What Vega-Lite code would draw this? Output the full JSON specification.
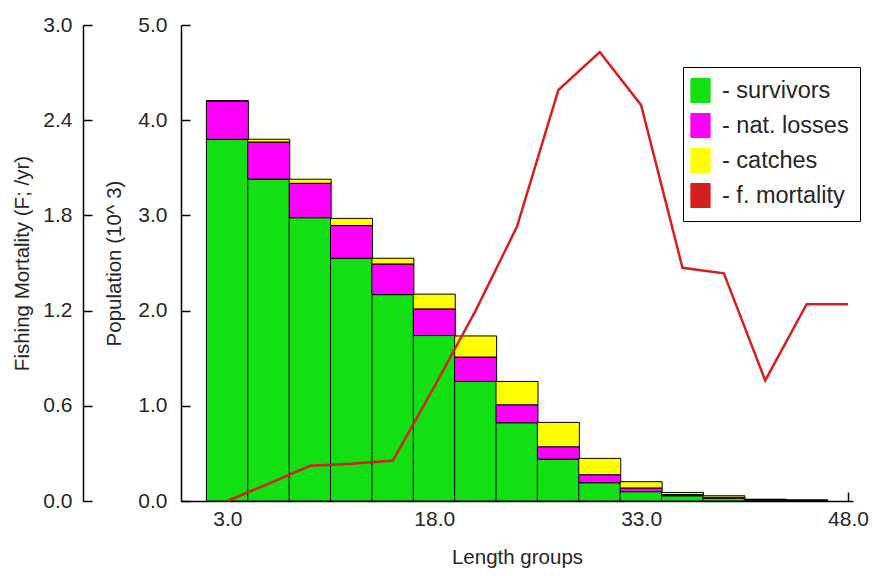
{
  "$schema": "https://vega.github.io/schema/vega-lite/v6.json",
  "width": 672,
  "height": 476,
  "autosize": {"type": "none"},
  "padding": {"left": 181, "top": 25, "right": 27, "bottom": 75},
  "background": "white",
  "config": {
    "font": "Liberation Sans",
    "view": {"stroke": null},
    "axis": {
      "grid": false,
      "zindex": 1,
      "domainColor": "black",
      "domainWidth": 1.5,
      "tickColor": "black",
      "tickWidth": 1.5,
      "tickSize": 9,
      "labelColor": "#262626",
      "titleColor": "#262626",
      "labelFontSize": 21,
      "titleFontSize": 20.5,
      "titleFontWeight": "normal",
      "labelFont": "Liberation Sans",
      "titleFont": "Liberation Sans"
    }
  },
  "datasets": {
    "bars": [
      {"len": 3, "part": "- survivors", "k": 1, "n": 3.80},
      {"len": 3, "part": "- nat. losses", "k": 2, "n": 0.40},
      {"len": 3, "part": "- catches", "k": 3, "n": 0.005},
      {"len": 6, "part": "- survivors", "k": 1, "n": 3.382},
      {"len": 6, "part": "- nat. losses", "k": 2, "n": 0.389},
      {"len": 6, "part": "- catches", "k": 3, "n": 0.029},
      {"len": 9, "part": "- survivors", "k": 1, "n": 2.976},
      {"len": 9, "part": "- nat. losses", "k": 2, "n": 0.361},
      {"len": 9, "part": "- catches", "k": 3, "n": 0.043},
      {"len": 12, "part": "- survivors", "k": 1, "n": 2.549},
      {"len": 12, "part": "- nat. losses", "k": 2, "n": 0.344},
      {"len": 12, "part": "- catches", "k": 3, "n": 0.076},
      {"len": 15, "part": "- survivors", "k": 1, "n": 2.168},
      {"len": 15, "part": "- nat. losses", "k": 2, "n": 0.322},
      {"len": 15, "part": "- catches", "k": 3, "n": 0.060},
      {"len": 18, "part": "- survivors", "k": 1, "n": 1.738},
      {"len": 18, "part": "- nat. losses", "k": 2, "n": 0.280},
      {"len": 18, "part": "- catches", "k": 3, "n": 0.155},
      {"len": 21, "part": "- survivors", "k": 1, "n": 1.256},
      {"len": 21, "part": "- nat. losses", "k": 2, "n": 0.256},
      {"len": 21, "part": "- catches", "k": 3, "n": 0.222},
      {"len": 24, "part": "- survivors", "k": 1, "n": 0.822},
      {"len": 24, "part": "- nat. losses", "k": 2, "n": 0.189},
      {"len": 24, "part": "- catches", "k": 3, "n": 0.245},
      {"len": 27, "part": "- survivors", "k": 1, "n": 0.441},
      {"len": 27, "part": "- nat. losses", "k": 2, "n": 0.129},
      {"len": 27, "part": "- catches", "k": 3, "n": 0.256},
      {"len": 30, "part": "- survivors", "k": 1, "n": 0.192},
      {"len": 30, "part": "- nat. losses", "k": 2, "n": 0.084},
      {"len": 30, "part": "- catches", "k": 3, "n": 0.172},
      {"len": 33, "part": "- survivors", "k": 1, "n": 0.098},
      {"len": 33, "part": "- nat. losses", "k": 2, "n": 0.039},
      {"len": 33, "part": "- catches", "k": 3, "n": 0.066},
      {"len": 36, "part": "- survivors", "k": 1, "n": 0.055},
      {"len": 36, "part": "- nat. losses", "k": 2, "n": 0.012},
      {"len": 36, "part": "- catches", "k": 3, "n": 0.023},
      {"len": 39, "part": "- survivors", "k": 1, "n": 0.030},
      {"len": 39, "part": "- nat. losses", "k": 2, "n": 0.008},
      {"len": 39, "part": "- catches", "k": 3, "n": 0.017},
      {"len": 42, "part": "- survivors", "k": 1, "n": 0.010},
      {"len": 42, "part": "- nat. losses", "k": 2, "n": 0.004},
      {"len": 42, "part": "- catches", "k": 3, "n": 0.005},
      {"len": 45, "part": "- survivors", "k": 1, "n": 0.006},
      {"len": 45, "part": "- nat. losses", "k": 2, "n": 0.002},
      {"len": 45, "part": "- catches", "k": 3, "n": 0.003}
    ],
    "fm": [
      {"len": 3, "F": 0.0},
      {"len": 6, "F": 0.11},
      {"len": 9, "F": 0.222},
      {"len": 12, "F": 0.235},
      {"len": 15, "F": 0.255},
      {"len": 18, "F": 0.72},
      {"len": 21, "F": 1.2},
      {"len": 24, "F": 1.73},
      {"len": 27, "F": 2.59},
      {"len": 30, "F": 2.83},
      {"len": 33, "F": 2.495},
      {"len": 36, "F": 1.47},
      {"len": 39, "F": 1.435},
      {"len": 42, "F": 0.76},
      {"len": 45, "F": 1.24},
      {"len": 48, "F": 1.24}
    ]
  },
  "layer": [
    {
      "data": {"name": "bars"},
      "mark": {"type": "bar", "width": 42, "stroke": "black", "strokeWidth": 1},
      "encoding": {
        "x": {
          "field": "len", "type": "quantitative",
          "scale": {"domain": [0, 48], "nice": false, "zero": false},
          "axis": {
            "title": "Length groups",
            "orient": "top",
            "offset": -476,
            "values": [3, 18, 33, 48],
            "format": ".1f",
            "labelBaseline": "top",
            "labelPadding": -16,
            "titleY": 56,
            "titleBaseline": "middle"
          }
        },
        "y": {
          "field": "n", "type": "quantitative", "stack": "zero",
          "scale": {"domain": [0, 5], "nice": false},
          "axis": {
            "title": "Population (10^ 3)",
            "orient": "right",
            "offset": -672,
            "values": [0, 1, 2, 3, 4, 5],
            "format": ".1f",
            "labelAlign": "right",
            "labelPadding": -23,
            "titleAngle": 270,
            "titleAlign": "center",
            "titleBaseline": "middle",
            "titleX": -67,
            "titleY": 238
          }
        },
        "order": {"field": "k", "type": "quantitative", "sort": "ascending"},
        "color": {
          "field": "part", "type": "nominal",
          "scale": {
            "domain": ["- survivors", "- nat. losses", "- catches", "- f. mortality"],
            "range": ["#12e012", "#ff00ff", "#ffff00", "#d42020"]
          },
          "legend": {
            "title": null,
            "orient": "none",
            "legendX": 502,
            "legendY": 42,
            "direction": "vertical",
            "fillColor": "white",
            "strokeColor": "black",
            "padding": 11,
            "rowPadding": 6,
            "labelFontSize": 23.5,
            "labelColor": "#262626",
            "labelFont": "Liberation Sans",
            "labelOffset": 3,
            "symbolSize": 576,
            "symbolType": "M-1.3,-1H0.3V1H-1.3Z",
            "symbolStrokeColor": "black",
            "symbolStrokeWidth": 1
          }
        }
      }
    },
    {
      "data": {"name": "fm"},
      "mark": {"type": "line", "strokeWidth": 2.5},
      "encoding": {
        "x": {"field": "len", "type": "quantitative"},
        "y": {
          "field": "F", "type": "quantitative",
          "scale": {"domain": [0, 3], "nice": false},
          "axis": {
            "title": "Fishing Mortality (F; /yr)",
            "orient": "right",
            "offset": -770,
            "values": [0, 0.6, 1.2, 1.8, 2.4, 3.0],
            "format": ".1f",
            "labelAlign": "right",
            "labelPadding": -20,
            "titleAngle": 270,
            "titleAlign": "center",
            "titleBaseline": "middle",
            "titleX": -61,
            "titleY": 238
          }
        },
        "color": {"datum": "- f. mortality"}
      }
    }
  ],
  "resolve": {"scale": {"y": "independent"}}
}
